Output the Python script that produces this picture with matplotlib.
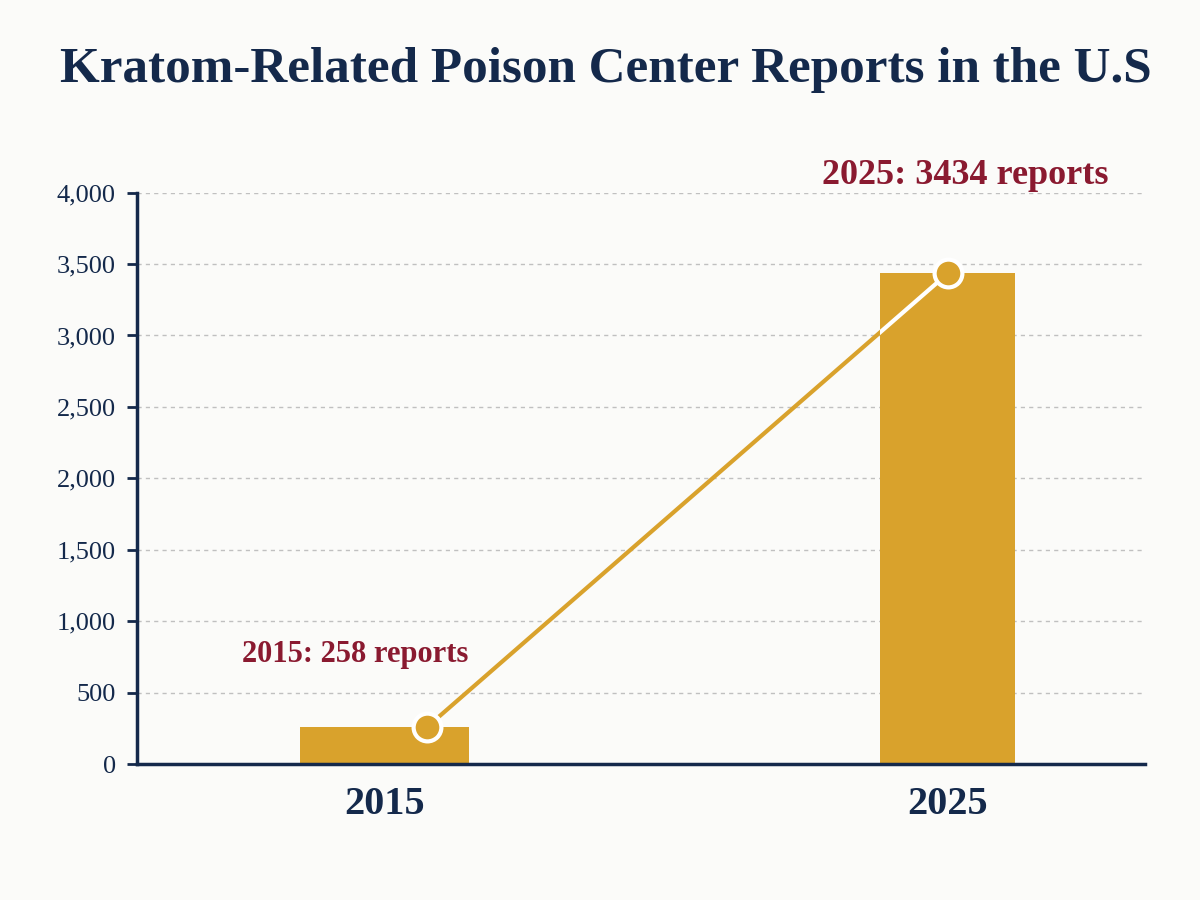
import matplotlib.pyplot as plt
import numpy as np
from matplotlib.ticker import FuncFormatter

years = ['2015', '2025']
reports = [258, 3434]
labels = ['2015: 258 reports', '2025: 3434 reports']
yticks = [0, 500, 1000, 1500, 2000, 2500, 3000, 3500, 4000]

NAVY = '#14294b'
GOLD = '#d9a22c'
RED = '#8a1a30'
BG = '#fbfbf9'

plt.rcParams['font.family'] = ['Liberation Serif', 'DejaVu Serif']

fig = plt.figure(figsize=(12, 9), dpi=100, facecolor=BG)
ax = fig.add_axes([0.114, 0.151, 0.84, 0.635])
ax.set_facecolor(BG)

x = np.arange(len(years))
widths = [0.30, 0.24]
bars = ax.bar(x, reports, width=widths, color=GOLD, zorder=2)

# line points sit a little right of the first bar centre
line_x = x + np.array([0.075, 0.0])
ax.plot(line_x, reports, color=GOLD, lw=3, zorder=3, solid_capstyle='round')
white = ax.plot(line_x, reports, color='white', lw=3, zorder=3)[0]
white.set_clip_path(bars[1])
ax.plot(line_x, reports, 'o', ms=20, mfc=GOLD, mec='white', mew=3, zorder=4)

# value labels
offsets = [(-72, 73), (18, 98)]
sizes = [22, 26]
for lx, val, txt, off, fs in zip(line_x, reports, labels, offsets, sizes):
    ax.annotate(txt, xy=(lx, val), xytext=off, textcoords='offset pixels',
                ha='center', va='center', color=RED, fontsize=fs,
                fontweight='bold', annotation_clip=False)

ax.set_xlim(-0.44, 1.35)
ax.set_ylim(0, 4000)
ax.set_xticks(x)
ax.set_xticklabels(years, fontsize=29, fontweight='bold', color=NAVY)
ax.set_yticks(yticks)
ax.yaxis.set_major_formatter(FuncFormatter(lambda v, p: f'{int(v):,}'))
ax.tick_params(axis='y', labelsize=19, labelcolor=NAVY, color=NAVY,
               length=7, width=2, pad=8)
ax.tick_params(axis='x', length=0, pad=16)

ax.yaxis.grid(True, ls=(0, (3, 3)), color='#c0c0c0', lw=1, zorder=0)
ax.set_axisbelow(True)
for s in ['top', 'right']:
    ax.spines[s].set_visible(False)
for s in ['left', 'bottom']:
    ax.spines[s].set_color(NAVY)
    ax.spines[s].set_linewidth(2.5)

title = fig.text(0.505, 0.922, 'Kratom-Related Poison Center Reports in the U.S',
                 ha='center', va='center', fontsize=40, fontweight='bold', color=NAVY)
fig.canvas.draw()
w = title.get_window_extent().width
title.set_fontsize(40 * 1090 / w)

fig.savefig('out.png', dpi=100, facecolor=BG)
